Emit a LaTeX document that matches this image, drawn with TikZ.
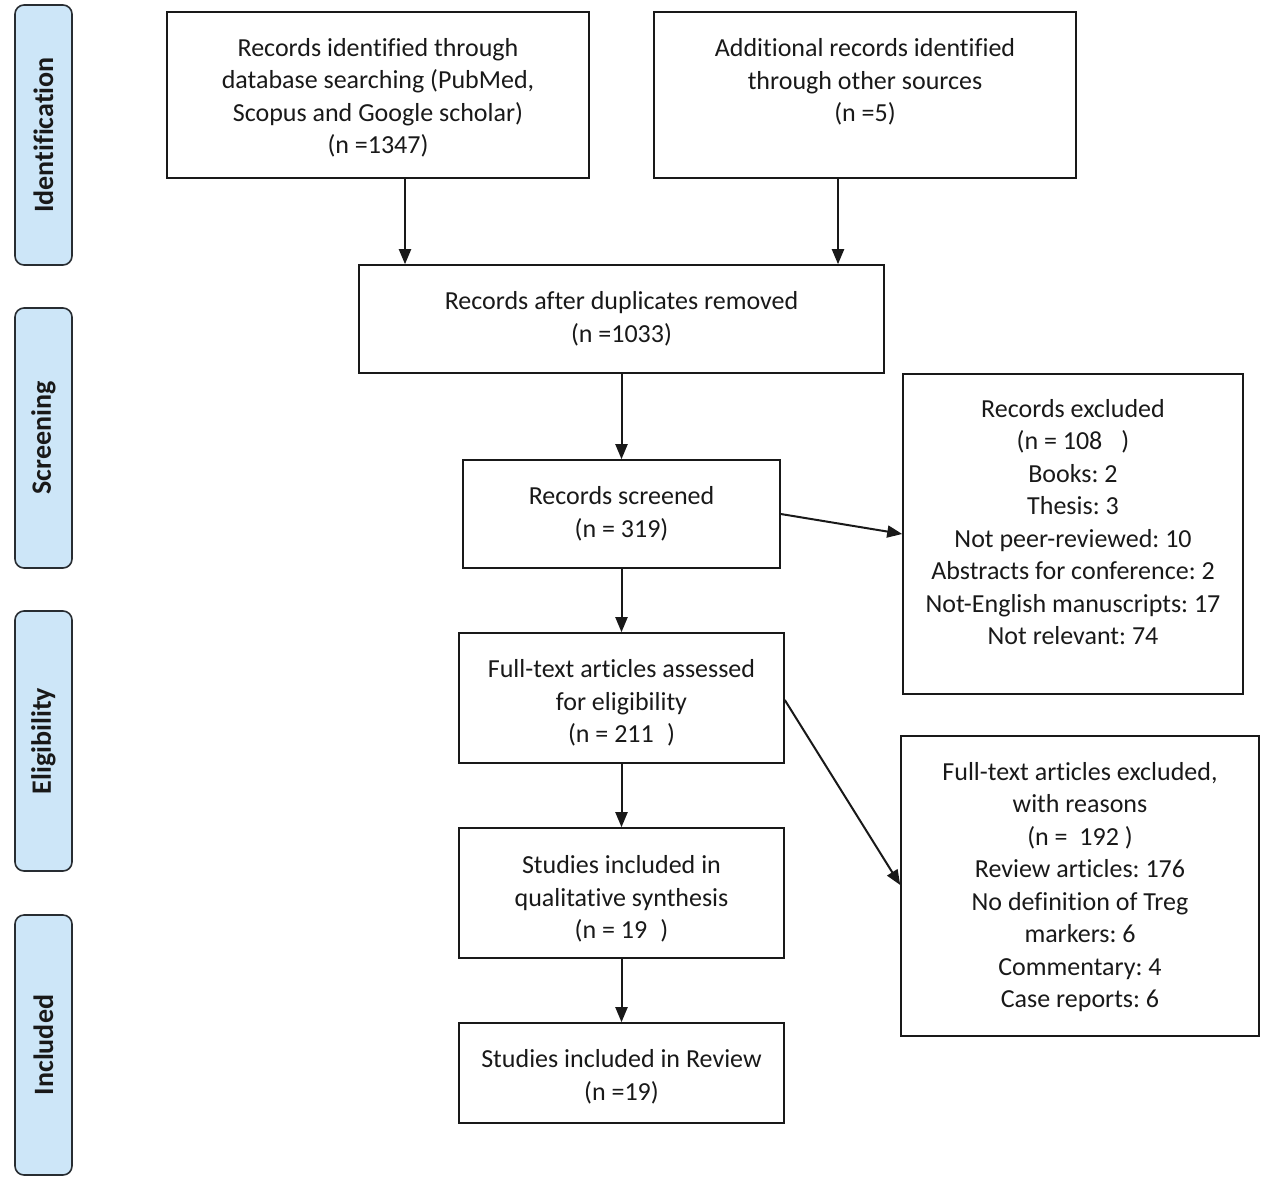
\documentclass[tikz,border=0pt]{standalone}
\usepackage{fontspec}
\setmainfont{Carlito}[Ligatures={NoCommon}]
\usetikzlibrary{arrows.meta}
\definecolor{sidefill}{RGB}{205,230,248}
\definecolor{sidedraw}{RGB}{40,45,50}
\definecolor{ink}{RGB}{25,25,25}
\frenchspacing
\begin{document}
\begin{tikzpicture}[x=1pt,y=-1pt,
  box/.style={draw=ink, line width=1.6pt, rectangle, inner sep=0pt},
  txt/.style={inner sep=0pt, align=center, font=\fontsize{26}{32.5}\selectfont, text=ink},
  side/.style={draw=sidedraw, fill=sidefill, rounded corners=9pt, line width=1.6pt,
    minimum width=260pt, minimum height=57pt, rotate=90, inner sep=0pt,
    font=\bfseries\fontsize{28}{32}\selectfont, text=ink},
  arr/.style={draw=ink, line width=2pt, -{Triangle[length=15pt,width=12pt]}}]
\useasboundingbox (0,0) rectangle (1273,1191);

% phase labels
\node[side] (sid) at (43.5,135) {Identification};
\node[side] (ssc) at (43.5,438) {Screening};
\node[side] (sel) at (43.5,741) {Eligibility};
\node[side] (sin) at (43.5,1045) {Included};

% main boxes
\node[box, minimum width=422pt, minimum height=166pt] (db) at (378,95) {};
\node[txt] (dbt) at (378,98)
  {Records identified through\\database searching (PubMed,\\Scopus and Google scholar)\\(n =1347)};
\node[box, minimum width=422pt, minimum height=166pt] (oth) at (865,95) {};
\node[txt] (otht) at (865,82)
  {Additional records identified\\through other sources\\(n =5)};
\node[box, minimum width=525pt, minimum height=108pt] (dup) at (621.5,319) {};
\node[txt] (dupt) at (621.5,319)
  {Records after duplicates removed\\(n =1033)};
\node[box, minimum width=317pt, minimum height=108pt] (scr) at (621.5,514) {};
\node[txt] (scrt) at (621.5,514)
  {Records screened\\(n = 319)};
\node[box, minimum width=325pt, minimum height=130pt] (ft) at (621.5,698) {};
\node[txt] (ftt) at (621.5,703)
  {Full-text articles assessed\\for eligibility\\(n = 211\phantom{0})};
\node[box, minimum width=325pt, minimum height=130pt] (qual) at (621.5,893) {};
\node[txt] (qualt) at (621.5,899)
  {Studies included in\\qualitative synthesis\\(n = 19\phantom{0})};
\node[box, minimum width=325pt, minimum height=100pt] (rev) at (621.5,1073) {};
\node[txt] (revt) at (621.5,1077)
  {Studies included in Review\\(n =19)};

% exclusion boxes
\node[box, minimum width=340pt, minimum height=320pt] (ex1) at (1073,534) {};
\node[txt] (ex1t) at (1073,522)
  {Records excluded\\(n = 108\phantom{0} )\\Books: 2\\Thesis: 3\\Not peer-reviewed: 10\\Abstracts for conference: 2\\Not-English manuscripts: 17\\Not relevant: 74};
\node[box, minimum width=358pt, minimum height=300pt] (ex2) at (1080,886) {};
\node[txt] (ex2t) at (1080,887)
  {Full-text articles excluded,\\with reasons\\(n =\ \ 192 )\\Review articles: 176\\No definition of Treg\\markers: 6\\Commentary: 4\\Case reports: 6};

% connectors
\draw[arr] (db.south -| 405,0) -- (dup.north -| 405,0);
\draw[arr] (oth.south -| 838,0) -- (dup.north -| 838,0);
\draw[arr] (dup) -- (scr);
\draw[arr] (scr) -- (ft);
\draw[arr] (ft) -- (qual);
\draw[arr] (qual) -- (rev);
\draw[arr] (scr.east |- 0,514) -- (ex1.west |- 0,534);
\draw[arr] (ft.east |- 0,700) -- (ex2.west |- 0,885);
\end{tikzpicture}
\end{document}
